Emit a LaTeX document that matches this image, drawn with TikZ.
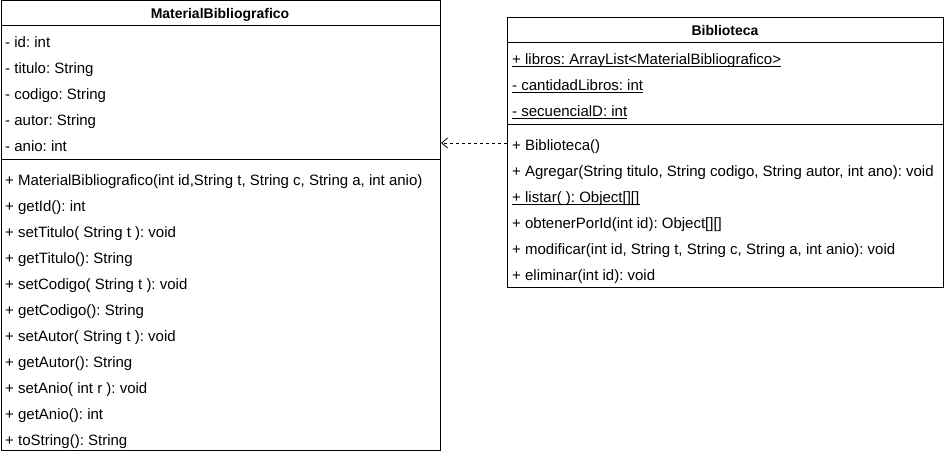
\documentclass[tikz,border=0pt]{standalone}
\usepackage{fontspec}
\setmainfont{Liberation Sans}
\usetikzlibrary{arrows.meta}
\frenchspacing
\begin{document}
\begin{tikzpicture}[x=1pt,y=-1pt,
  umlbox/.style={draw, line width=1pt, anchor=north west, inner sep=0pt},
  row/.style={anchor=base west, inner sep=0pt, font=\fontsize{15}{18}\selectfont},
  ttl/.style={anchor=base, inner sep=0pt, font=\fontsize{14}{17}\selectfont\bfseries},
  sepline/.style={line width=1pt},
  ulline/.style={line width=0.8pt},
  dep/.style={line width=0.8pt, dash pattern=on 3pt off 3pt, -{Straight Barb[length=6pt,width=10pt]}}]
\useasboundingbox (0,0) rectangle (945,454);
% ---- MaterialBibliografico
\node[umlbox, minimum width=439.5pt, minimum height=449.5pt] (mat) at (0.5,0.5) {};
\draw[sepline] (0.5,26) -- (440,26);
\draw[sepline] (0.5,160) -- (440,160);
\node[ttl] (matT) at (220,19) {MaterialBibliografico};
\foreach \t [count=\i] in {{- id: int},{- titulo: String},{- codigo: String},{- autor: String},{- anio: int}}
  \node[row] (ma\i) at (5,21.5+26*\i) {\t};
\foreach \t [count=\i] in {{+ MaterialBibliografico(int id,String t, String c, String a, int anio)},
  {+ getId(): int},{+ setTitulo( String t ): void},{+ getTitulo(): String},
  {+ setCodigo( String t ): void},{+ getCodigo(): String},{+ setAutor( String t ): void},
  {+ getAutor(): String},{+ setAnio( int r ): void},{+ getAnio(): int},{+ toString(): String}}
  \node[row] (mm\i) at (5,159.5+26*\i) {\t};
% ---- Biblioteca
\node[umlbox, minimum width=436pt, minimum height=270pt] (bib) at (507,17) {};
\draw[sepline] (507,43) -- (943,43);
\draw[sepline] (507,125) -- (943,125);
\node[ttl] (bibT) at (725,36) {Biblioteca};
\foreach \t [count=\i] in {{+ libros: ArrayList<MaterialBibliografico>},{- cantidadLibros: int},{- secuencialD: int}}
  {\node[row] (ba\i) at (512,38.5+26*\i) {\t};
   \draw[ulline] ([yshift=-2pt]ba\i.base west) -- ([yshift=-2pt]ba\i.base east);}
\foreach \t [count=\i] in {{+ Biblioteca()},{+ Agregar(String titulo, String codigo, String autor, int ano): void},
  {+ listar( ): Object[][]},{+ obtenerPorId(int id): Object[][]},
  {+ modificar(int id, String t, String c, String a, int anio): void},{+ eliminar(int id): void}}
  \node[row] (bm\i) at (512,124.5+26*\i) {\t};
\draw[ulline] ([yshift=-2pt]bm3.base west) -- ([yshift=-2pt]bm3.base east);
% ---- dependency
\draw[dep] (bib.west |- 0,143) -- (mat.east |- 0,143);
\end{tikzpicture}
\end{document}
